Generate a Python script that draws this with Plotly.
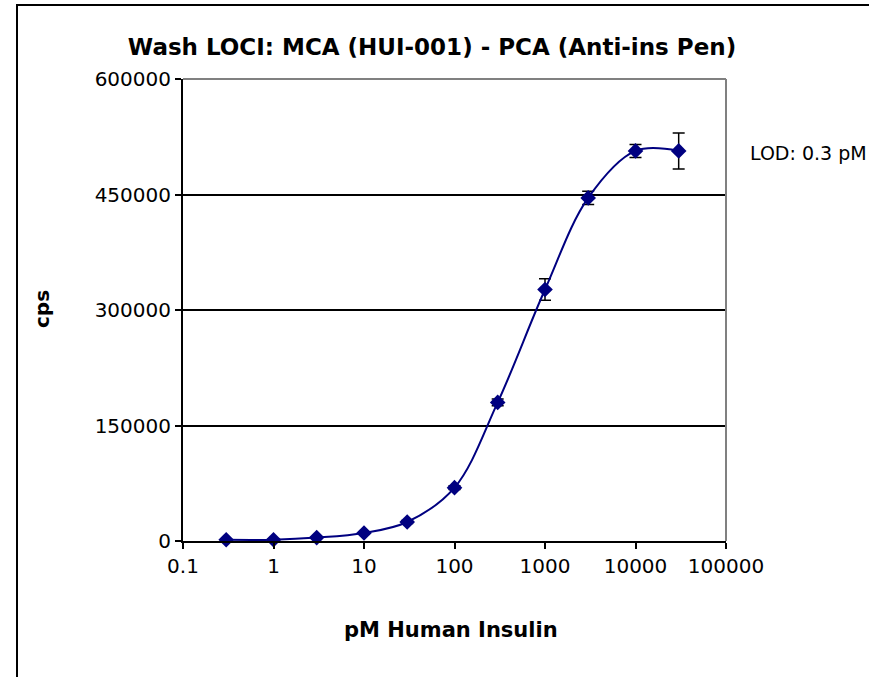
import plotly.graph_objects as go

# Data
conc_pM = [0.3, 1, 3, 10, 30, 100, 300, 1000, 3000, 10000, 30000]
cps = [1600, 1700, 4400, 10400, 24700, 69300, 180000, 326600, 445600, 506600, 506600]
cps_err = [500, 500, 800, 1200, 2000, 2500, 4300, 13900, 8700, 8400, 23400]

x_tickvals = [0.1, 1, 10, 100, 1000, 10000, 100000]
x_ticktext = ["0.1", "1", "10", "100", "1000", "10000", "100000"]
y_tickvals = [0, 150000, 300000, 450000, 600000]

title_text = "Wash LOCI: MCA (HUI-001) - PCA (Anti-ins Pen)"
x_title = "pM Human Insulin"
y_title = "cps"
lod_text = "LOD: 0.3 pM"

W, H = 869, 677
L, R, T, B = 183, 726, 79, 541
pw, ph = R - L, B - T

def px(xpix):
    return (xpix - L) / pw

def py(ypix):
    return (B - ypix) / ph

FONT = "DejaVu Sans"

fig = go.Figure()
fig.add_trace(go.Scatter(
    x=conc_pM, y=cps,
    mode="lines+markers",
    line=dict(color="#000080", width=2, shape="spline", smoothing=1),
    marker=dict(symbol="diamond", size=12, color="#000080"),
    error_y=dict(type="data", array=cps_err, visible=True, color="black", thickness=1.5, width=6),
    showlegend=False,
    cliponaxis=False,
))

fig.update_layout(
    width=W, height=H,
    margin=dict(l=L, r=W - R, t=T, b=H - B),
    paper_bgcolor="white", plot_bgcolor="white",
    font=dict(family=FONT, size=20, color="black"),
    title=dict(text="<b>" + title_text + "</b>", x=432 / W, xanchor="center",
               y=1 - 47 / H, yanchor="middle", yref="container",
               font=dict(family=FONT, size=23, color="black")),
    showlegend=False,
)

fig.update_xaxes(
    type="log", range=[-1, 5],
    tickvals=x_tickvals, ticktext=x_ticktext,
    showgrid=False, zeroline=False,
    showline=True, linecolor="black", linewidth=2,
    ticks="outside", ticklen=6, tickwidth=1.5, tickcolor="black",
    tickfont=dict(family=FONT, size=20),
)
fig.update_yaxes(
    range=[0, 600000], tickvals=y_tickvals, tickformat="d",
    showgrid=True, gridcolor="black", gridwidth=1.5,
    zeroline=False,
    showline=True, linecolor="black", linewidth=2,
    ticks="outside", ticklen=6, tickwidth=1.5, tickcolor="black",
    tickfont=dict(family=FONT, size=20),
)

shapes = [
    # gray top & right plot border
    dict(type="line", xref="paper", yref="paper", x0=0, x1=1, y0=1, y1=1,
         line=dict(color="#808080", width=2), layer="above"),
    dict(type="line", xref="paper", yref="paper", x0=1, x1=1, y0=0, y1=1,
         line=dict(color="#808080", width=2), layer="above"),
    # outer chart border
    dict(type="rect", xref="paper", yref="paper",
         x0=px(17), x1=px(W + 10), y0=py(H + 10), y1=py(5),
         line=dict(color="black", width=2), fillcolor="rgba(0,0,0,0)", layer="above"),
]
fig.update_layout(shapes=shapes)

fig.add_annotation(text="<b>" + x_title + "</b>", xref="paper", yref="paper",
                   x=px(451), y=py(630), showarrow=False,
                   font=dict(family=FONT, size=21), xanchor="center", yanchor="middle")
fig.add_annotation(text="<b>" + y_title + "</b>", xref="paper", yref="paper",
                   x=px(42), y=py(309), showarrow=False, textangle=-90,
                   font=dict(family=FONT, size=20), xanchor="center", yanchor="middle")
fig.add_annotation(text=lod_text, xref="paper", yref="paper",
                   x=px(748), y=py(153), showarrow=False,
                   font=dict(family=FONT, size=19), xanchor="left", yanchor="middle")

fig.write_html("out.html", config={"displayModeBar": False},
               post_script="document.body.style.margin='0px';")
